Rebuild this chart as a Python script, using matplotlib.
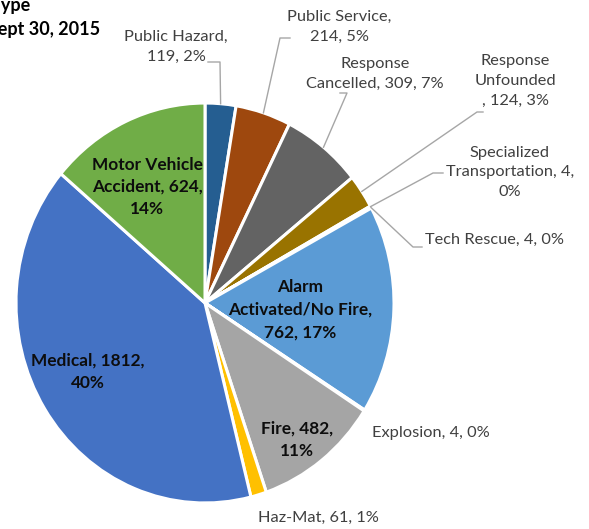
import numpy as np
import matplotlib.pyplot as plt

plt.rcParams['font.family'] = ['Lato', 'DejaVu Sans']

# data, clockwise from 12 o'clock
categories = ['Public Hazard', 'Public Service', 'Response Cancelled', 'Response Unfounded',
              'Specialized Transportation', 'Tech Rescue', 'Alarm Activated/No Fire',
              'Explosion', 'Fire', 'Haz-Mat', 'Medical', 'Motor Vehicle Accident']
counts = [119, 214, 309, 124, 4, 4, 762, 4, 482, 61, 1812, 624]
percents = [2, 5, 7, 3, 0, 0, 17, 0, 11, 1, 40, 14]  # as printed on the chart
colors = ['#255E91', '#9E480E', '#636363', '#997300', '#43682B', '#264478',
          '#5B9BD5', '#ED7D31', '#A5A5A5', '#FFC000', '#4472C4', '#70AD47']
# how Excel wrapped each data label
label_fmt = ['Public Hazard,\n{c}, {p}%', 'Public Service,\n{c}, {p}%',
             'Response\nCancelled, {c}, {p}%', 'Response\nUnfounded\n, {c}, {p}%',
             'Specialized\nTransportation, {c},\n{p}%', 'Tech Rescue, {c}, {p}%',
             'Alarm\nActivated/No Fire,\n{c}, {p}%', 'Explosion, {c}, {p}%',
             'Fire, {c},\n{p}%', 'Haz-Mat, {c}, {p}%', 'Medical, {c},\n{p}%',
             'Motor Vehicle\nAccident, {c},\n{p}%']
title_lines = ['Incidents by Type', 'January 1 - Sept 30, 2015']

# layout in image pixels (y down)
W, H = 589, 529
SY = 1.058  # the picture is a little stretched vertically
cx, cy, R = 205, 303, 189
def Y(y):
    return (H - y) / SY

# label centre, horizontal alignment, bold inside?, leader elbow points
label_pos = [(176, 47, 'center', False, [(220, 62), (208, 62)]),
             (339, 27, 'center', False, [(280, 38), (290, 38)]),
             (375, 74, 'center', False, [(347, 93), (340, 93)]),
             (515, 81, 'center', False, [(477, 112), (483, 112)]),
             (510, 172, 'center', False, [(433, 173), (443, 173)]),
             (425, 240, 'left', False, [(413, 247), (422, 247)]),
             (300, 310, 'center', True, None),
             (372, 433, 'left', False, None),
             (297, 440, 'center', True, None),
             (258, 518, 'left', False, None),
             (88, 372, 'center', True, None),
             (147, 187, 'center', True, None)]

fig = plt.figure(figsize=(W / 100, H / 100), dpi=100)
ax = fig.add_axes([0, 0, 1, 1])

wedges, _ = ax.pie(counts, colors=colors, startangle=90, counterclock=False,
                   radius=R, center=(cx, Y(cy)), frame=True,
                   wedgeprops=dict(edgecolor='white', linewidth=2.2))
ax.set_aspect('auto')
ax.set_xlim(0, W)
ax.set_ylim(0, H / SY)
ax.axis('off')

for w, c, p, fmt, (lx, ly, ha, bold, elbow) in zip(wedges, counts, percents, label_fmt, label_pos):
    txt = fmt.format(c=c, p=p)
    ax.text(lx, Y(ly), txt, ha=ha, va='center', fontsize=12.4 if bold else 11.8,
            fontweight='bold' if bold else 'normal',
            color='#0D0D0D' if bold else '#404040', linespacing=1.5)
    if elbow:
        th = np.deg2rad((w.theta1 + w.theta2) / 2)
        px = [cx + R * np.cos(th)] + [q[0] for q in elbow]
        py = [Y(cy) + R * np.sin(th)] + [Y(q[1]) for q in elbow]
        ax.plot(px, py, color='#A6A6A6', lw=1)

ax.text(30, Y(6), title_lines[0], ha='right', va='center', fontsize=13,
        fontweight='bold', color='black')
ax.text(100, Y(30), title_lines[1], ha='right', va='center', fontsize=13,
        fontweight='bold', color='black')

fig.savefig('out.png', dpi=100)
